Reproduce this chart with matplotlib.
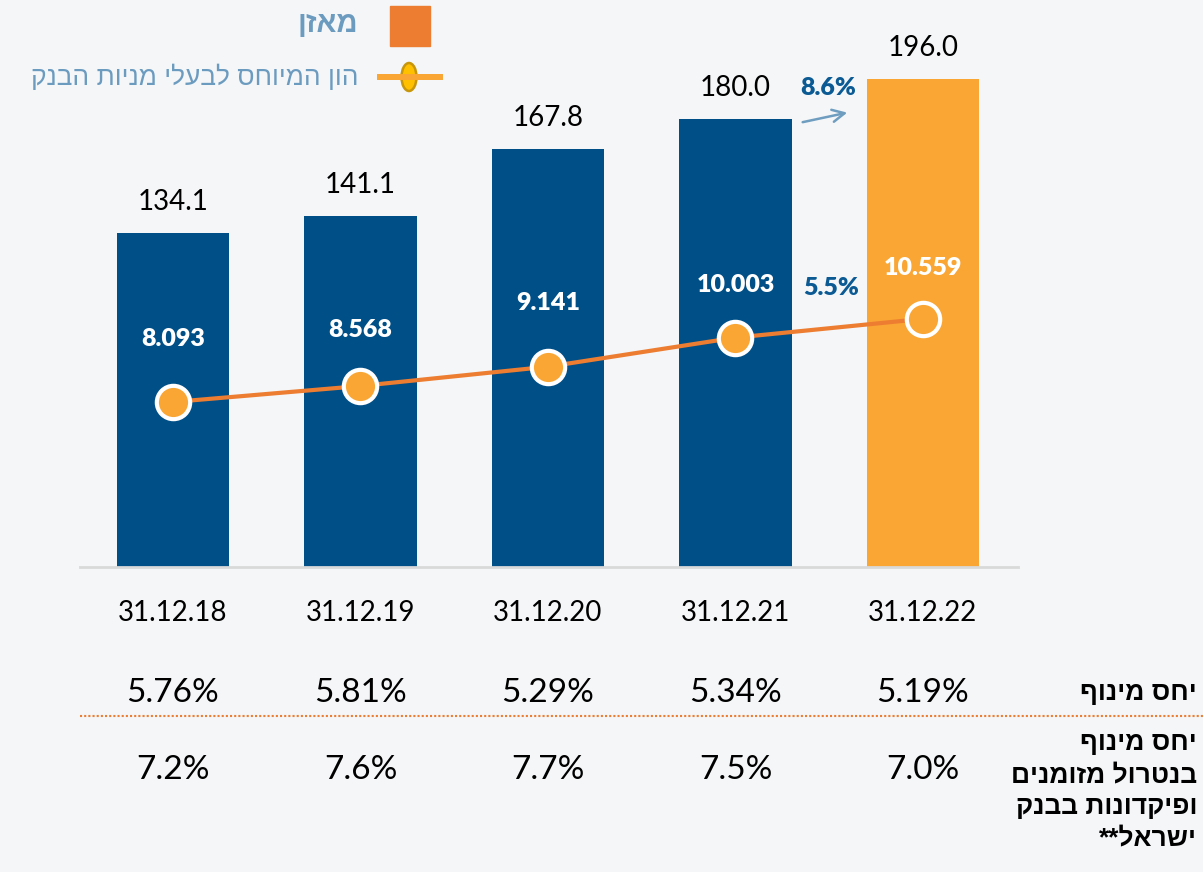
#!/usr/bin/env python3
"""
Balance and shareholders' equity, 2018-2022
"""
import matplotlib
matplotlib.use("Agg")
import matplotlib.pyplot as plt
from matplotlib.patches import Rectangle, Ellipse
from matplotlib.lines import Line2D
from matplotlib.transforms import blended_transform_factory

dates = ['31.12.18', '31.12.19', '31.12.20', '31.12.21', '31.12.22']
balance = [134.1, 141.1, 167.8, 180.0, 196.0]
equity = [8.093, 8.568, 9.141, 10.003, 10.559]
leverage = ['5.76%', '5.81%', '5.29%', '5.34%', '5.19%']
leverage_ex = ['7.2%', '7.6%', '7.7%', '7.5%', '7.0%']
balance_growth = '8.6%'
equity_growth = '5.5%'

leg_balance = 'מאזן'
leg_equity = 'הון המיוחס לבעלי מניות הבנק'
row1_label = 'יחס מינוף'
row2_label = ['יחס מינוף', 'בנטרול מזומנים', 'ופיקדונות בבנק', 'ישראל**']

BLUE = '#004F87'
ORANGE = '#F9A634'
LINE = '#ED7D31'
NUM_FONT = ['Lato', 'DejaVu Sans']
HEB_FONT = ['Liberation Sans', 'DejaVu Sans']


def rtl(s):
    # matplotlib has no bidi support, so give it the visual order
    return s[::-1]


W, H = 1203, 872


def fx(px):
    return px / W


def fy(py):
    return 1 - py / H


fig = plt.figure(figsize=(W / 100, H / 100), dpi=100, facecolor='#f4f6f8')

ax = fig.add_axes([fx(80), fy(567), (1018 - 80) / W, (567 - 60) / H])
ax.set_facecolor('none')
ax.set_xlim(-0.496, 4.507)
ax.set_ylim(0, 203.6)
x = list(range(len(dates)))

colors = [BLUE] * (len(dates) - 1) + [ORANGE]
ax.bar(x, balance, width=0.6, color=colors, zorder=2)
for xi, v in zip(x, balance):
    ax.annotate(f'{v:.1f}', (xi, v), xytext=(0, 13), textcoords='offset points',
                ha='center', va='bottom', fontsize=20, family=NUM_FONT, color='black')

for s in ['top', 'left', 'right']:
    ax.spines[s].set_visible(False)
ax.spines['bottom'].set_color('#d9d9d9')
ax.spines['bottom'].set_linewidth(2)
ax.set_yticks([])
ax.set_xticks(x, dates)
ax.tick_params(axis='x', length=0, pad=24)
for t in ax.get_xticklabels():
    t.set_fontsize(20)
    t.set_family(NUM_FONT)

ax2 = ax.twinx()
ax2.set_ylim(3.197, 18.24)
ax2.axis('off')
ax2.plot(x, equity, color=LINE, lw=3, marker='o', ms=24, mfc=ORANGE,
         mec='white', mew=3, zorder=3)
label_dy = [63, 56, 64, 53, 51]
for xi, v, dy in zip(x, equity, label_dy):
    ax2.annotate(f'{v:.3f}', (xi, v), xytext=(0, dy * 0.72), textcoords='offset points',
                 ha='center', va='center', fontsize=18, fontweight='heavy',
                 family=NUM_FONT, color='white')

# growth notes
ax.text(3.493, 192.4, balance_growth, ha='center', va='center', fontsize=18,
        fontweight='heavy', family=NUM_FONT, color='#0B5A94')
ax.annotate('', xy=(3.611, 182.7), xytext=(3.344, 178.4),
            arrowprops=dict(arrowstyle='->', color='#6E9DC0', lw=1.8,
                            mutation_scale=22))
ax2.text(3.51, 11.476, equity_growth, ha='center', va='center', fontsize=18,
         fontweight='heavy', family=NUM_FONT, color='#0B5A94')

# table rows under the chart
tr = blended_transform_factory(ax.transData, fig.transFigure)
for xi, a, b in zip(x, leverage, leverage_ex):
    fig.text(xi, fy(693), a, transform=tr, ha='center', va='center',
             fontsize=24, family=NUM_FONT)
    fig.text(xi, fy(770), b, transform=tr, ha='center', va='center',
             fontsize=24, family=NUM_FONT)
fig.add_artist(Line2D([fx(80), 1], [fy(716), fy(716)], ls=(0, (1, 1)),
                      color=LINE, lw=1.5))
fig.text(fx(1197), fy(693), rtl(row1_label), ha='right', va='center',
         fontsize=19, fontweight='bold', family=HEB_FONT)
fig.text(fx(1197), fy(791), '\n'.join(rtl(s) for s in row2_label), ha='right',
         va='center', multialignment='right', fontsize=19, fontweight='bold',
         family=HEB_FONT, linespacing=1.42)

# legend
fig.add_artist(Rectangle((fx(390), fy(46)), 40 / W, 40 / H, color=LINE,
                         transform=fig.transFigure))
fig.text(fx(358), fy(24), rtl(leg_balance), ha='right', va='center',
         fontsize=21, fontweight='bold', family=HEB_FONT, color='#6C9BC0')
fig.add_artist(Line2D([fx(380), fx(440)], [fy(77), fy(77)], color=ORANGE, lw=4.3))
fig.add_artist(Ellipse((fx(409), fy(77)), 15 / W, 28 / H, facecolor='#FFC000',
                       edgecolor='#C8960A', lw=1.8, transform=fig.transFigure))
fig.text(fx(358), fy(77), rtl(leg_equity), ha='right', va='center',
         fontsize=19, family=HEB_FONT, color='#6C9BC0')

fig.savefig('out.png', dpi=100, facecolor=fig.get_facecolor())
